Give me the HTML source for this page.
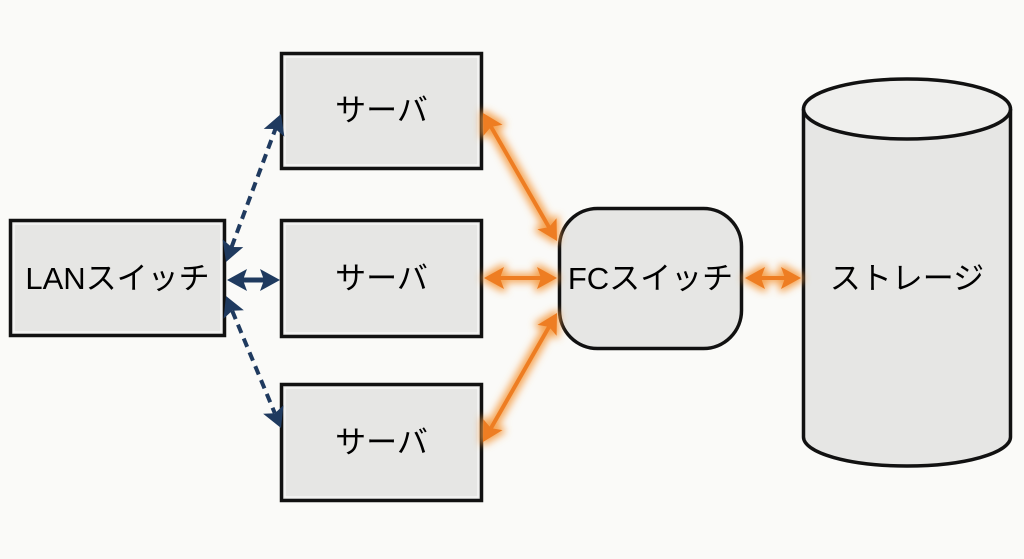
<!DOCTYPE html>
<html>
<head>
<meta charset="utf-8">
<style>
  html,body{margin:0;padding:0;background:#fafaf8;}
  svg{display:block;}
  text{font-family:"Liberation Sans","Noto Sans CJK JP",sans-serif;font-size:31px;fill:#000;}
</style>
</head>
<body>
<svg width="1024" height="559" viewBox="0 0 1024 559" xmlns="http://www.w3.org/2000/svg">
  <defs>
    <filter id="glow" x="-40%" y="-40%" width="180%" height="180%">
      <feMorphology in="SourceAlpha" operator="dilate" radius="2.5" result="d"/>
      <feGaussianBlur in="d" stdDeviation="4" result="b"/>
      <feFlood flood-color="#f59a40" flood-opacity="0.9"/>
      <feComposite in2="b" operator="in" result="g"/>
      <feMerge><feMergeNode in="g"/><feMergeNode in="SourceGraphic"/></feMerge>
    </filter>
  </defs>

  <!-- LAN switch -->
  <rect x="10.5" y="220.5" width="214" height="115" fill="#e6e6e4" stroke="#111" stroke-width="3.5"/>
  <rect x="14" y="224" width="207" height="108" fill="none" stroke="#fafafa" stroke-width="1.2"/>
  <text x="117.5" y="289" text-anchor="middle">LANスイッチ</text>

  <!-- Servers -->
  <rect x="281.5" y="53.5" width="200" height="115" fill="#e6e6e4" stroke="#111" stroke-width="3.5"/>
  <rect x="285" y="57" width="193" height="108" fill="none" stroke="#fafafa" stroke-width="1.2"/>
  <text x="381.5" y="121" text-anchor="middle">サーバ</text>

  <rect x="281.5" y="220.5" width="200" height="116" fill="#e6e6e4" stroke="#111" stroke-width="3.5"/>
  <rect x="285" y="224" width="193" height="109" fill="none" stroke="#fafafa" stroke-width="1.2"/>
  <text x="381.5" y="289" text-anchor="middle">サーバ</text>

  <rect x="281.5" y="384.5" width="200" height="116" fill="#e6e6e4" stroke="#111" stroke-width="3.5"/>
  <rect x="285" y="388" width="193" height="109" fill="none" stroke="#fafafa" stroke-width="1.2"/>
  <text x="381.5" y="453" text-anchor="middle">サーバ</text>

  <!-- FC switch -->
  <rect x="559.5" y="208.5" width="182" height="140" rx="38" ry="38" fill="#e6e6e4" stroke="#111" stroke-width="3.5"/>
  <text x="650.5" y="289" text-anchor="middle">FCスイッチ</text>

  <!-- Storage cylinder -->
  <path d="M803.5,109 L803.5,437 A103.5,29 0 0 0 1010.5,437 L1010.5,109" fill="#e6e6e4" stroke="#111" stroke-width="3.5"/>
  <ellipse cx="907" cy="109" rx="103.5" ry="30" fill="#efefed" stroke="#111" stroke-width="3.5"/>
  <text x="907" y="289" text-anchor="middle">ストレージ</text>

  <!-- Navy LAN connectors -->
  <g stroke="#1f3a5f" stroke-width="4" fill="none">
    <line x1="231.6" y1="247" x2="275.4" y2="129" stroke-dasharray="9 6"/>
    <line x1="232.2" y1="310.8" x2="274.8" y2="413.2" stroke-dasharray="9 6"/>
    <line x1="243" y1="280" x2="264" y2="280" stroke-width="5"/>
  </g>
  <g fill="#1f3a5f">
    <polygon points="281,114 284.35,136.57 275.43,129.0 263.73,128.91"/>
    <polygon points="226,262 222.65,239.43 231.57,247.0 243.27,247.09"/>
    <polygon points="281,428 263.15,413.78 274.84,413.23 283.45,405.3"/>
    <polygon points="226,296 243.85,310.22 232.16,310.77 223.55,318.7"/>
    <polygon points="227,280 247,269 243,280 247,291"/>
    <polygon points="280,280 260,269 264,280 260,291"/>
  </g>

  <!-- Orange FC connectors -->
  <g filter="url(#glow)">
    <g stroke="#ee7d22" stroke-width="4" fill="none">
      <line x1="491" y1="126.8" x2="549" y2="227.2"/>
      <line x1="491" y1="428.1" x2="549" y2="326.9"/>
      <line x1="500" y1="278" x2="541" y2="278"/>
      <line x1="761" y1="278" x2="785" y2="278"/>
    </g>
    <g fill="#ee7d22">
      <polygon points="557,241 537.48,229.2 549,227.16 556.52,218.2"/>
      <polygon points="483,113 502.52,124.8 491,126.84 483.48,135.8"/>
      <polygon points="557,313 556.6,335.81 549.05,326.87 537.52,324.87"/>
      <polygon points="483,442 483.4,419.19 490.95,428.13 502.48,430.13"/>
      <polygon points="484,278 504,267 500,278 504,289"/>
      <polygon points="557,278 537,267 541,278 537,289"/>
      <polygon points="745,278 765,267 761,278 765,289"/>
      <polygon points="801,278 781,267 785,278 781,289"/>
    </g>
  </g>
</svg>
</body>
</html>
